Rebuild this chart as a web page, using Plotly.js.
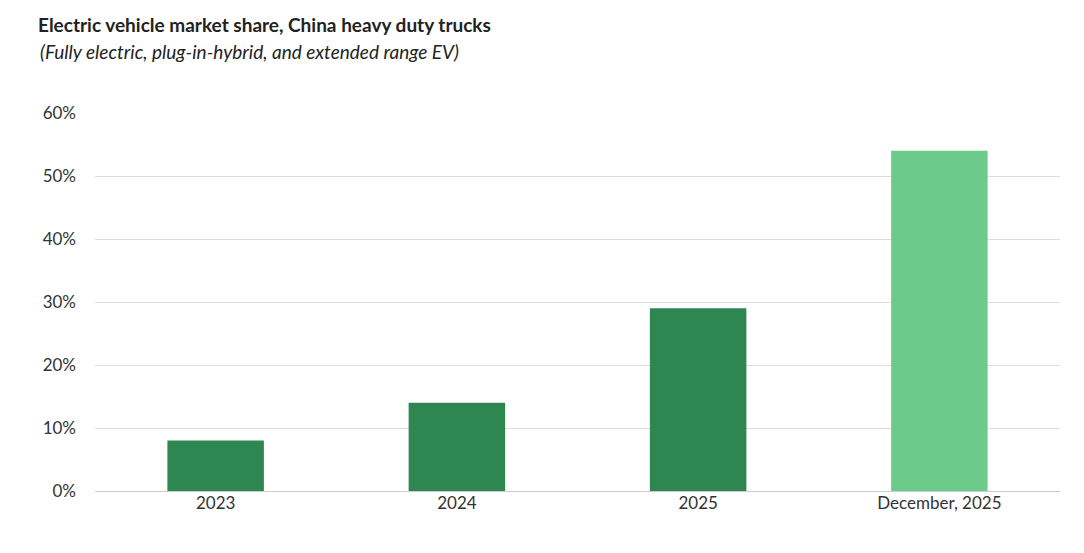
<!DOCTYPE html>
<html>
<head>
<meta charset="utf-8">
<script src="https://cdn.plot.ly/plotly-3.0.1.min.js"></script>
<style>html,body{margin:0;padding:0;background:#fff}</style>
</head>
<body>
<div id="chart" style="width:1084px;height:553px"></div>
<script>
// market share of EVs in China heavy duty trucks
var categories = ['2023', '2024', '2025', 'December, 2025'];
var shares = [0.08, 0.14, 0.29, 0.54];
var barColors = ['#2e8650', '#2e8650', '#2e8650', '#6ccb8a'];

var trace = {
    x: categories,
    y: shares,
    type: 'bar',
    marker: {color: barColors},
    hoverinfo: 'x+y'
};

var layout = {
    width: 1084,
    height: 553,
    margin: {l: 95, r: 24, t: 113, b: 62},
    font: {family: 'Lato, sans-serif', color: '#333', size: 17},
    bargap: 0.6,
    showlegend: false,
    plot_bgcolor: '#fff',
    paper_bgcolor: '#fff',
    title: {
        text: '<b>Electric vehicle market share, China heavy duty trucks</b>',
        x: 38 / 1084, xanchor: 'left', xref: 'container',
        y: 1 - 25 / 553, yanchor: 'middle', yref: 'container',
        font: {family: 'Lato, sans-serif', size: 19, color: '#222'}
    },
    annotations: [{
        text: '<i>(Fully electric, plug-in-hybrid, and extended range EV)</i>',
        xref: 'paper', yref: 'paper',
        x: -57 / 965, y: 1 + 62 / 378,
        xanchor: 'left', yanchor: 'middle',
        showarrow: false,
        font: {family: 'Lato, sans-serif', size: 19, color: '#222'}
    }],
    xaxis: {
        type: 'category',
        showgrid: false,
        showline: false,
        ticks: '',
        tickfont: {size: 17, color: '#333'}
    },
    yaxis: {
        range: [0, 0.6],
        dtick: 0.1,
        tickformat: '.0%',
        gridcolor: '#dddddd',
        zeroline: true,
        zerolinecolor: '#cccccc',
        ticks: '',
        ticklabelstandoff: 18,
        tickfont: {size: 17, color: '#333'}
    }
};

Plotly.newPlot('chart', [trace], layout, {displayModeBar: false});
</script>
</body>
</html>
